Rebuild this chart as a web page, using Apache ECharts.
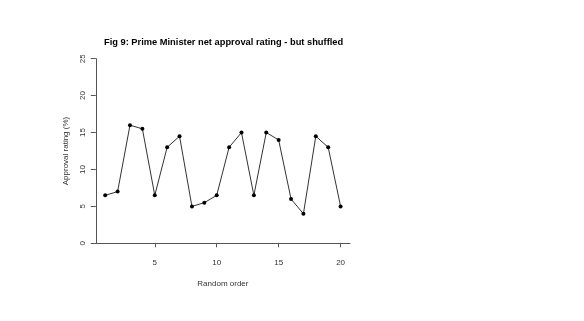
<!DOCTYPE html>
<html><head><meta charset="utf-8">
<script src="https://cdn.jsdelivr.net/npm/echarts@6/dist/echarts.min.js"></script>
<style>html,body{margin:0;padding:0;background:#fff}#c{width:584px;height:321px}</style>
</head><body><div id="c"></div>
<script>
const xValues = [1,2,3,4,5,6,7,8,9,10,11,12,13,14,15,16,17,18,19,20];
const approval = [6.5,7,16,15.5,6.5,13,14.5,5,5.5,6.5,13,15,6.5,15,14,6,4,14.5,13,5];
const yTicks = [0,5,10,15,20,25];
const xTicks = [5,10,15,20];
const title = 'Fig 9: Prime Minister net approval rating - but shuffled';
const xName = 'Random order';
const yName = 'Approval rating (%)';

const chart = echarts.init(document.getElementById('c'), null, {renderer:'canvas'});
const font = 'Liberation Sans, Arial, sans-serif';
chart.setOption({
  animation:false,
  backgroundColor:'#fff',
  title:{text:title,left:99,top:33,textStyle:{fontFamily:font,fontSize:9.3,fontWeight:'bold',color:'#000'}},
  grid:{left:95.8,right:234,top:58.7,bottom:77.7},
  xAxis:{type:'value',min:0.24,max:20.76,offset:8,
    name:xName,nameLocation:'middle',nameGap:28,nameTextStyle:{fontFamily:font,fontSize:8,color:'#333'},
    axisLine:{show:true,lineStyle:{color:'#555',width:1}},
    axisTick:{show:true,length:4,lineStyle:{color:'#555'},customValues:xTicks},
    axisLabel:{fontFamily:font,fontSize:8,color:'#333',margin:7,customValues:xTicks,showMinLabel:true,showMaxLabel:true},
    splitLine:{show:false}},
  yAxis:{type:'value',min:0,max:25,interval:5,
    name:yName,nameLocation:'middle',nameGap:26,nameRotate:90,nameTextStyle:{fontFamily:font,fontSize:8,color:'#333'},
    axisLine:{show:true,lineStyle:{color:'#555',width:1}},
    axisTick:{show:true,length:5,lineStyle:{color:'#555'}},
    axisLabel:{fontFamily:font,fontSize:8,color:'#333',rotate:90,margin:9},
    splitLine:{show:false}},
  series:[{type:'line',data:xValues.map((x,i)=>[x,approval[i]]),
    symbol:'circle',symbolSize:4,itemStyle:{color:'#000'},
    lineStyle:{color:'#333',width:1}}]
});
</script></body></html>
